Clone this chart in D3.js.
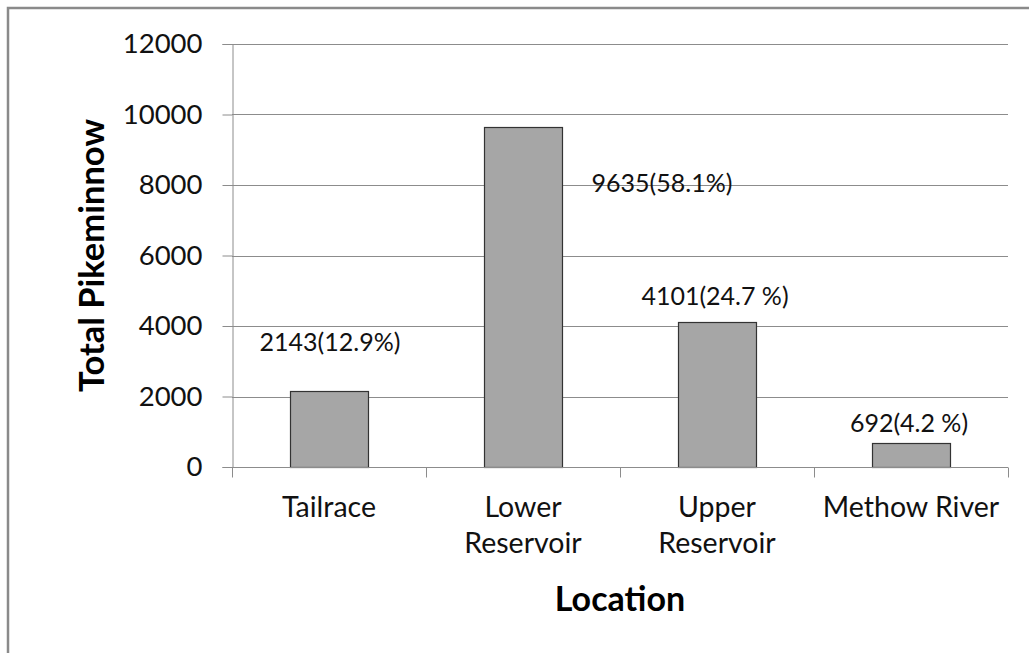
<!DOCTYPE html>
<html>
<head>
<meta charset="utf-8">
<script src="https://cdn.jsdelivr.net/npm/d3@7"></script>
<style>
  html, body { margin: 0; padding: 0; background: #fff; }
  svg { display: block; font-family: Lato, "Open Sans", sans-serif; }
</style>
</head>
<body>
<svg id="chart" width="1029" height="653"></svg>
<script>
// ---- data ----
const categories = ["Tailrace", "Lower Reservoir", "Upper Reservoir", "Methow River"];
const categoryLines = [["Tailrace"], ["Lower", "Reservoir"], ["Upper", "Reservoir"], ["Methow River"]];
const values = [2143, 9635, 4101, 692];
const valueLabels = ["2143(12.9%)", "9635(58.1%)", "4101(24.7 %)", "692(4.2 %)"];
const yTicks = [0, 2000, 4000, 6000, 8000, 10000, 12000];
const yTitle = "Total Pikeminnow";
const xTitle = "Location";

// ---- layout / style ----
const plot = { left: 232, right: 1008, top: 44, bottom: 467 };
// manual label placement (px offsets from bar top-centre), as in the original
const labelOffsets = [[1, -40], [139, 65], [-2, -17], [-2, -11]];

const svg = d3.select("#chart");

// outer frame (top and left visible)
svg.append("path")
  .attr("d", "M8,653 L8,8 L1029,8")
  .attr("fill", "none").attr("stroke", "#8a8a8a").attr("stroke-width", 2.5);

const x = d3.scaleBand().domain(categories).range([plot.left, plot.right]).paddingInner(0.6).paddingOuter(0.3);
const xBand = d3.scaleBand().domain(categories).range([plot.left, plot.right]);
const y = d3.scaleLinear().domain([0, 12000]).range([plot.bottom, plot.top]);

// gridlines
svg.append("g").selectAll("line").data(yTicks.filter(d => d > 0)).join("line")
  .attr("x1", plot.left).attr("x2", plot.right)
  .attr("y1", d => Math.round(y(d)) + 0.5).attr("y2", d => Math.round(y(d)) + 0.5)
  .attr("stroke", "#8c8c8c").attr("stroke-width", 1);

// y axis
const yAxis = svg.append("g").attr("transform", `translate(${plot.left + 0.5},0)`)
  .call(d3.axisLeft(y).tickValues(yTicks).tickSize(10).tickPadding(20).tickFormat(d3.format("d")));
yAxis.select(".domain").attr("stroke", "#8c8c8c");
yAxis.selectAll(".tick line").attr("stroke", "#8c8c8c");
yAxis.selectAll(".tick text").attr("font-size", 27.5).attr("fill", "#111").attr("font-family", "Lato");

// bars
svg.append("g").selectAll("rect").data(values).join("rect")
  .attr("x", (d, i) => Math.round(x(categories[i])) + 0.5)
  .attr("width", Math.round(x.bandwidth()))
  .attr("y", d => Math.round(y(d)) + 0.5)
  .attr("height", d => Math.round(y(0)) - Math.round(y(d)))
  .attr("fill", "#a6a6a6").attr("stroke", "#333").attr("stroke-width", 1.2);

// x axis
const xAxis = svg.append("g").attr("transform", `translate(0,${Math.round(plot.bottom) + 0.5})`);
xAxis.append("line").attr("x1", plot.left).attr("x2", plot.right)
  .attr("stroke", "#8c8c8c");
const xTickPos = categories.map(c => xBand(c)).concat([plot.right]);
xAxis.selectAll("line.tk").data(xTickPos).join("line").attr("class", "tk")
  .attr("x1", d => Math.round(d) + 0.5).attr("x2", d => Math.round(d) + 0.5)
  .attr("y1", 0).attr("y2", 10).attr("stroke", "#8c8c8c");

// category labels
const catG = svg.append("g");
categoryLines.forEach((lines, i) => {
  const cx = xBand(categories[i]) + xBand.bandwidth() / 2;
  const t = catG.append("text").attr("x", cx).attr("y", 517)
    .attr("text-anchor", "middle").attr("font-size", 28.5).attr("fill", "#111");
  lines.forEach((ln, j) => t.append("tspan").attr("x", cx).attr("dy", j === 0 ? 0 : 36).text(ln));
});

// value labels
svg.append("g").selectAll("text").data(values).join("text")
  .attr("x", (d, i) => x(categories[i]) + x.bandwidth() / 2 + labelOffsets[i][0])
  .attr("y", (d, i) => y(d) + labelOffsets[i][1])
  .attr("text-anchor", "middle").attr("font-size", 25).attr("fill", "#111")
  .text((d, i) => valueLabels[i]);

// axis titles
svg.append("text").attr("x", (plot.left + plot.right) / 2).attr("y", 611)
  .attr("text-anchor", "middle").attr("font-size", 34).attr("font-weight", "bold").attr("fill", "#000")
  .text(xTitle);
svg.append("text").attr("transform", `translate(104,${(plot.top + plot.bottom) / 2}) rotate(-90)`)
  .attr("text-anchor", "middle").attr("font-size", 34.5).attr("font-weight", "bold").attr("fill", "#000")
  .text(yTitle);
</script>
</body>
</html>
